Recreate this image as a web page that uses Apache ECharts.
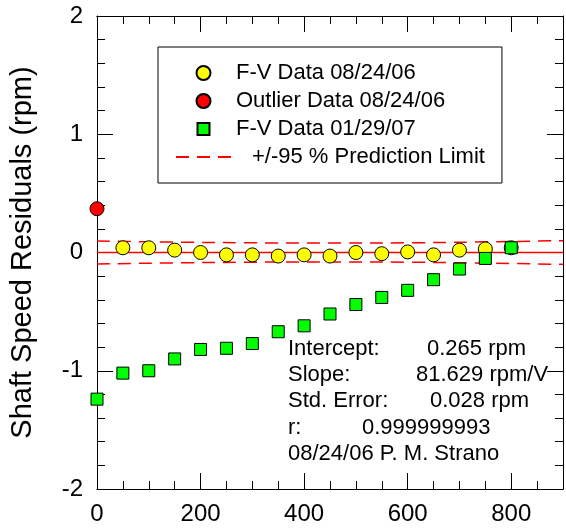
<!DOCTYPE html>
<html><head><meta charset="utf-8">
<script src="https://cdn.jsdelivr.net/npm/echarts@6/dist/echarts.min.js"></script>
<style>html,body{margin:0;padding:0;background:#fff}#c{width:566px;height:528px}</style>
</head><body><div id="c"></div>
<script>
const FONT = '"Liberation Sans", Arial, Helvetica, sans-serif';
// F-V Data 08/24/06 (yellow circles)
const xFV06 = [50,100,150,200,250,300,350,400,450,500,550,600,650,700,750,800];
const yFV06 = [0.04,0.04,0.02,0.00,-0.02,-0.02,-0.03,-0.02,-0.03,0.00,-0.01,0.005,-0.02,0.02,0.03,0.04];
// Outlier Data 08/24/06 (red circle)
const xOutlier = [0];
const yOutlier = [0.37];
// F-V Data 01/29/07 (green squares)
const xFV07 = [0,50,100,150,200,250,300,350,400,450,500,550,600,650,700,750,800];
const yFV07 = [-1.24,-1.02,-1.00,-0.90,-0.82,-0.81,-0.77,-0.67,-0.62,-0.52,-0.44,-0.38,-0.32,-0.23,-0.14,-0.05,0.04];
// +/-95 % prediction limits
const xLimit = [0,150,300,450,600,750,900];
const yUpper = [0.097,0.088,0.082,0.080,0.082,0.090,0.100];
const yLower = [-0.097,-0.088,-0.082,-0.080,-0.082,-0.090,-0.100];
// fit (zero residual) line
const xFit = [0,900];
const yFit = [0,0];
// annotation
const statLabels = ['Intercept:','Slope:','Std. Error:','r:'];
const statValues = ['0.265 rpm','81.629 rpm/V','0.028 rpm','0.999999993'];
const credit = '08/24/06 P. M. Strano';
const legendNames = ['F-V Data 08/24/06','Outlier Data 08/24/06','F-V Data 01/29/07','+/-95 % Prediction Limit'];

const zip = (xs, ys) => xs.map((x,i)=>[x, ys[i]]);
const chart = echarts.init(document.getElementById('c'), null, {renderer:'canvas'});
const black = '#000';
function xAx(pos, interval, len, labels){
  return {type:'value', position:pos, min:0, max:900, interval:interval,
    axisLine:{show:true, onZero:false, lineStyle:{color:black,width:1}},
    axisTick:{show:true, inside:true, length:len, lineStyle:{color:black,width:1}},
    axisLabel:{show:labels, color:black, fontSize:24, fontFamily:FONT, margin:13,
      formatter: v => v > 800 ? '' : String(v)},
    splitLine:{show:false}};
}
function yAx(pos, labels){
  return {type:'value', position:pos, min:-2, max:2, interval:1,
    axisLine:{show:true, onZero:false, lineStyle:{color:black,width:1}},
    axisTick:{show:true, inside:true, length:16, lineStyle:{color:black,width:1}},
    minorTick:{show:true, splitNumber:5, length:8, lineStyle:{color:black,width:1}},
    axisLabel:{show:labels, color:black, fontSize:24, fontFamily:FONT, margin:14},
    splitLine:{show:false},
    name: labels ? 'Shaft Speed Residuals (rpm)' : '', nameLocation:'middle', nameGap:60,
    nameTextStyle:{fontSize:29, color:black, fontFamily:FONT}};
}
const dashStyle = {color:'#ff0000', width:1.5, type:[13,8]};
const tf = '22px ' + FONT;
const rowY = i => 336 + 2 + i*26.2;
const option = {
  animation:false,
  textStyle:{fontFamily:FONT},
  grid:{left:95, top:16, width:473, height:473},
  xAxis:[xAx('bottom',200,16,true), xAx('bottom',50,8,false), xAx('top',200,16,false), xAx('top',50,8,false)],
  yAxis:[yAx('left',true), yAx('right',false)],
  legend:{
    orient:'vertical', left:158, top:47,
    padding:[15,17,15,17], itemGap:6, itemWidth:55, itemHeight:14,
    backgroundColor:'#fff', borderColor:black, borderWidth:1,
    textStyle:{fontSize:22, color:black, fontFamily:FONT},
    data:[
      {name:legendNames[0]},
      {name:legendNames[1]},
      {name:legendNames[2], icon:'path://M0 0M14 14M1 1H13V13H1Z'},
      {name:legendNames[3], itemStyle:{color:'rgba(0,0,0,0)', borderWidth:0, opacity:0}, textStyle:{padding:[0,0,0,16]}}
    ]
  },
  graphic:[
    ...statLabels.map((t,i)=>({type:'text', left:288, top:rowY(i), z:10,
      style:{text:t, fill:black, font:tf}})),
    ...statValues.map((t,i)=>({type:'text', left:[427,416,430,362][i], top:rowY(i), z:10,
      style:{text:t, fill:black, font:tf}})),
    {type:'text', left:288, top:rowY(4), z:10, style:{text:credit, fill:black, font:tf}}
  ],
  series:[
    {name:'fit', type:'line', data:zip(xFit,yFit), symbol:'none', lineStyle:{color:'#ff0000',width:1.5}, z:1, silent:true},
    {name:legendNames[3], type:'line', data:zip(xLimit,yUpper), smooth:true, symbol:'none', lineStyle:dashStyle, itemStyle:{color:'#ff0000'}, z:1},
    {name:legendNames[3], type:'line', data:zip(xLimit,yLower), smooth:true, symbol:'none', lineStyle:dashStyle, itemStyle:{color:'#ff0000'}, z:1},
    {name:legendNames[0], type:'scatter', data:zip(xFV06,yFV06), symbol:'circle', symbolSize:14,
      itemStyle:{color:'#ffff00', borderColor:black, borderWidth:1, opacity:1}, z:2},
    {name:legendNames[1], type:'scatter', data:zip(xOutlier,yOutlier), symbol:'circle', symbolSize:14,
      itemStyle:{color:'#ff0000', borderColor:black, borderWidth:1, opacity:1}, z:3},
    {name:legendNames[2], type:'scatter', data:zip(xFV07,yFV07), symbol:'rect', symbolSize:12,
      itemStyle:{color:'#00ff00', borderColor:black, borderWidth:1, opacity:1}, z:4}
  ]
};
chart.setOption(option);
</script></body></html>
